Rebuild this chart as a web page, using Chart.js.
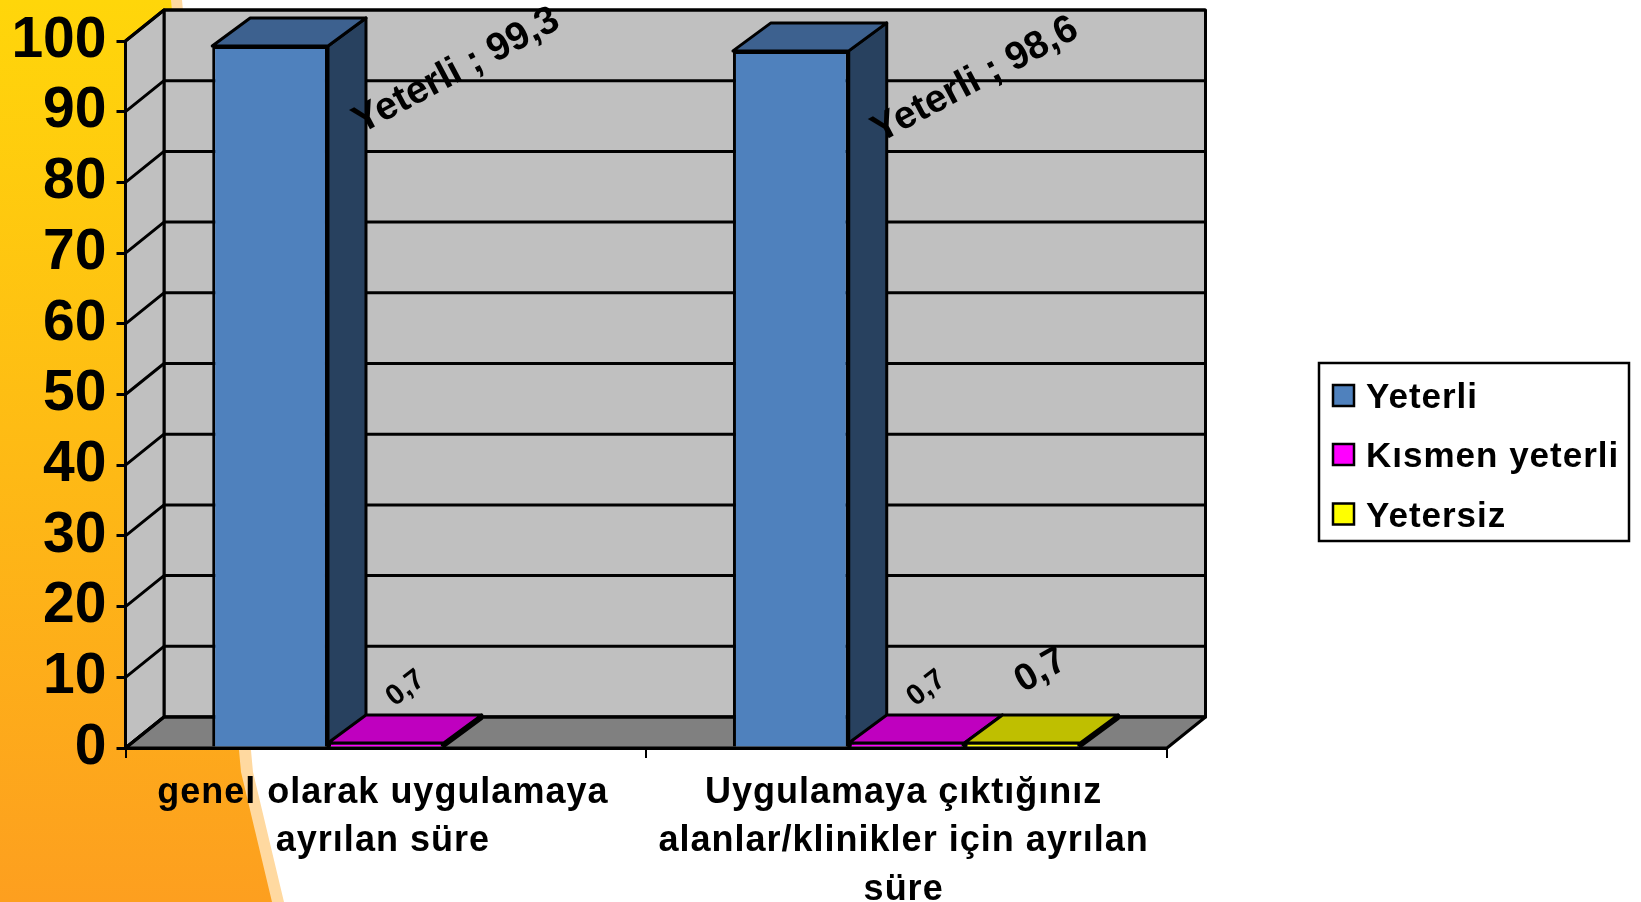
<!DOCTYPE html>
<html>
<head>
<meta charset="utf-8">
<style>
  html, body { margin: 0; padding: 0; background: #fff; overflow: hidden; }
  #wrap { position: relative; width: 1641px; height: 902px; }
  .wedge { position: absolute; left: 0; top: 0; width: 1641px; height: 902px; }
  #strip { background: #ffd9a0; clip-path: polygon(0 0, 182px 0, 253px 772px, 284px 902px, 0 902px); }
  #orange { background: linear-gradient(#ffd60a, #fd9f1f); clip-path: polygon(0 0, 171px 0, 241px 772px, 272px 902px, 0 902px); }
  canvas { position: absolute; left: 0; top: 0; }
</style>
</head>
<body>
<div id="wrap">
  <div class="wedge" id="strip"></div>
  <div class="wedge" id="orange"></div>
  <canvas id="chart" width="1641" height="902"></canvas>
</div>
<script src="https://cdn.jsdelivr.net/npm/chart.js@4"></script>
<script>
const categories = [
  ['genel olarak uygulamaya', 'ayrılan süre'],
  ['Uygulamaya çıktığınız', 'alanlar/klinikler için ayrılan', 'süre']
];
const seriesNames = ['Yeterli', 'Kısmen yeterli', 'Yetersiz'];
const yeterli = [99.3, 98.6];
const kismenYeterli = [0.7, 0.7];
const yetersiz = [null, 0.7];

const FONT = '"Liberation Sans", Arial, sans-serif';
const WALL_DX = 38.5, WALL_DY = 31;
const BAR_DX = 38, BAR_DY = 28;

// front, top and side colours per series
const faces = [
  { front: '#4f81bd', top: '#3d618f', side: '#28415f' },
  { front: '#ff00ff', top: '#bf00bf', side: '#800080' },
  { front: '#ffff00', top: '#bfbf00', side: '#808000' }
];

// label look per series / point: [dx, dy, font size, angle]
const labelStyles = [
  [[33, 88, 39, -28], [31, 92, 39, -28]],
  [[-49, -36, 29, -38], [-49, -36, 29, -38]],
  [null, [-57, -50, 38, -30]]
];

function poly(ctx, pts, fill) {
  ctx.beginPath();
  pts.forEach((p, i) => i ? ctx.lineTo(p[0], p[1]) : ctx.moveTo(p[0], p[1]));
  ctx.closePath();
  ctx.fillStyle = fill;
  ctx.fill();
  ctx.stroke();
}

// walls, floor and gridlines, then the side and top of each bar
const box3d = {
  id: 'box3d',
  beforeDatasetsDraw(chart) {
    const { ctx, chartArea: a, scales: { y } } = chart;
    ctx.save();
    ctx.strokeStyle = '#000';
    ctx.lineWidth = 3;
    ctx.lineJoin = 'round';
    poly(ctx, [[a.left + WALL_DX, a.top - WALL_DY], [a.right + WALL_DX, a.top - WALL_DY], [a.right + WALL_DX, a.bottom - WALL_DY], [a.left + WALL_DX, a.bottom - WALL_DY]], '#c0c0c0');
    poly(ctx, [[a.left, a.top], [a.left + WALL_DX, a.top - WALL_DY], [a.left + WALL_DX, a.bottom - WALL_DY], [a.left, a.bottom]], '#c0c0c0');
    poly(ctx, [[a.left, a.bottom], [a.left + WALL_DX, a.bottom - WALL_DY], [a.right + WALL_DX, a.bottom - WALL_DY], [a.right, a.bottom]], '#808080');
    y.ticks.forEach(t => {
      const py = y.getPixelForValue(t.value);
      ctx.beginPath();
      ctx.moveTo(a.left, py);
      ctx.lineTo(a.left + WALL_DX, py - WALL_DY);
      ctx.lineTo(a.right + WALL_DX, py - WALL_DY);
      ctx.stroke();
    });
    chart.data.datasets.forEach((ds, i) => {
      chart.getDatasetMeta(i).data.forEach((bar, j) => {
        if (ds.data[j] == null) return;
        const l = bar.x - bar.width / 2, r = bar.x + bar.width / 2;
        const t = bar.y, b = bar.base;
        poly(ctx, [[r, t], [r + BAR_DX, t - BAR_DY], [r + BAR_DX, b - BAR_DY], [r, b]], faces[i].side);
        poly(ctx, [[l, t], [l + BAR_DX, t - BAR_DY], [r + BAR_DX, t - BAR_DY], [r, t]], faces[i].top);
      });
    });
    ctx.restore();
  },
  afterDatasetsDraw(chart) {
    const { ctx } = chart;
    chart.data.datasets.forEach((ds, i) => {
      chart.getDatasetMeta(i).data.forEach((bar, j) => {
        const st = labelStyles[i][j];
        if (ds.data[j] == null || !st) return;
        const val = String(ds.data[j]).replace('.', ',');
        const text = i === 0 ? ds.label + ' ; ' + val : val;
        ctx.save();
        ctx.translate(bar.x + bar.width / 2 + st[0], bar.y + st[1]);
        ctx.rotate(st[3] * Math.PI / 180);
        ctx.font = 'bold ' + st[2] + 'px ' + FONT;
        ctx.fillStyle = '#000';
        ctx.textAlign = 'left';
        ctx.textBaseline = 'alphabetic';
        ctx.fillText(text, 0, 0);
        ctx.restore();
      });
    });
  }
};

// framed legend on the right, with the same loose letter spacing as the axis text
const legendBox = {
  id: 'legendBox',
  afterDraw(chart) {
    const { ctx } = chart;
    const rowY = [395.5, 454.5, 514];
    ctx.save();
    ctx.fillStyle = '#fff';
    ctx.strokeStyle = '#000';
    ctx.lineWidth = 2.5;
    ctx.fillRect(1319, 363, 310, 178);
    ctx.strokeRect(1319, 363, 310, 178);
    ctx.font = 'bold 35px ' + FONT;
    ctx.textBaseline = 'middle';
    ctx.letterSpacing = '1px';
    seriesNames.forEach((name, i) => {
      ctx.fillStyle = faces[i].front;
      ctx.fillRect(1333, rowY[i] - 10.5, 21, 21);
      ctx.strokeRect(1333, rowY[i] - 10.5, 21, 21);
      ctx.fillStyle = '#000';
      ctx.fillText(name, 1366, rowY[i] + 3);
    });
    ctx.restore();
  }
};

function spacedLabels(scale) {
  if (scale.spaced) return;
  scale.spaced = true;
  const draw = scale.drawLabels;
  scale.drawLabels = function (area) {
    scale.ctx.letterSpacing = '1px';
    draw.call(this, area);
    scale.ctx.letterSpacing = '0px';
  };
}

new Chart(document.getElementById('chart'), {
  type: 'bar',
  data: {
    labels: categories,
    datasets: [
      { label: seriesNames[0], data: yeterli, backgroundColor: faces[0].front },
      { label: seriesNames[1], data: kismenYeterli, backgroundColor: faces[1].front },
      { label: seriesNames[2], data: yetersiz, backgroundColor: faces[2].front }
    ].map(d => ({ ...d, borderColor: '#000', borderWidth: 3, categoryPercentage: 0.667, barPercentage: 1 }))
  },
  options: {
    responsive: false,
    animation: false,
    layout: { padding: { top: 41, right: 474, left: 0, bottom: 0 } },
    scales: {
      y: {
        min: 0,
        max: 100,
        afterFit: s => { s.width = 125.5; },
        ticks: { stepSize: 10, autoSkip: false, color: '#000', padding: 10, font: { family: FONT, size: 57, weight: 'bold', lineHeight: 1 } },
        grid: { drawOnChartArea: false, color: '#000', lineWidth: 3, tickLength: 9 },
        border: { color: '#000', width: 3 }
      },
      x: {
        afterFit: s => { s.height = 154; spacedLabels(s); },
        ticks: { color: '#000', autoSkip: false, maxRotation: 0, padding: 11, labelOffset: -3, font: { family: FONT, size: 36, weight: 'bold', lineHeight: 1.34 } },
        grid: { drawOnChartArea: false, color: '#000', lineWidth: 2, tickLength: 10 },
        border: { color: '#000', width: 3 }
      }
    },
    plugins: {
      tooltip: { enabled: false },
      legend: { display: false }
    }
  },
  plugins: [box3d, legendBox]
});
</script>
</body>
</html>
